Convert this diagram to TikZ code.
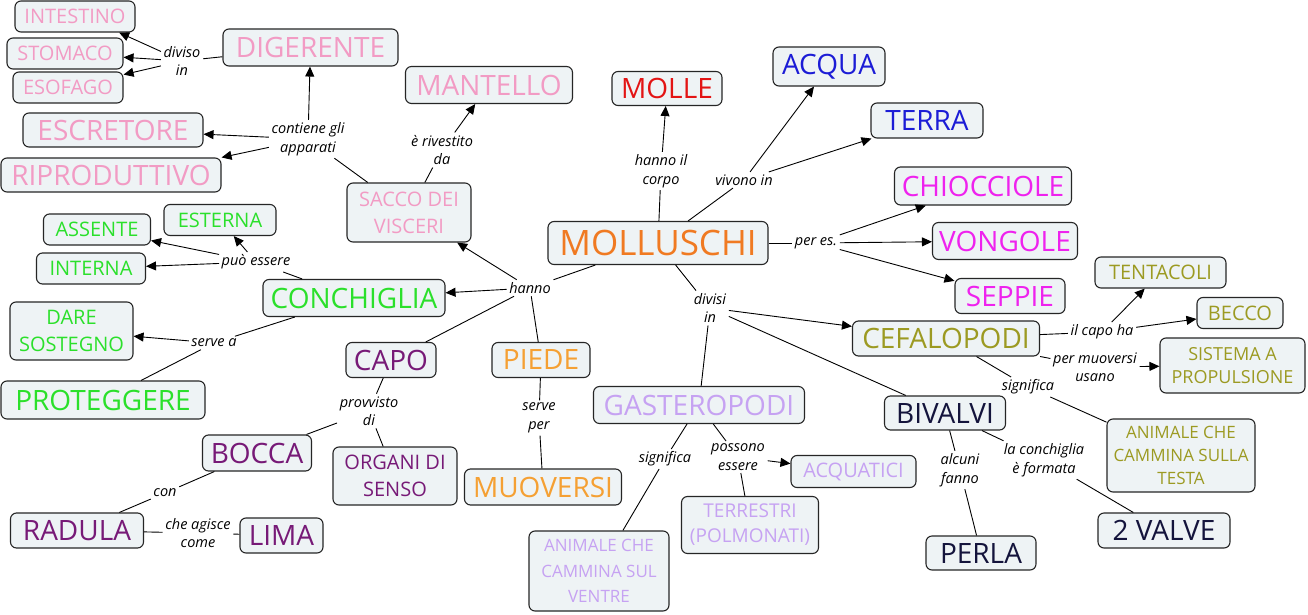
\documentclass[tikz,border=0pt]{standalone}
\usepackage{fontspec}
\setmainfont{Open Sans}
\usetikzlibrary{arrows.meta}
\definecolor{BoxFill}{HTML}{EEF3F5}
\definecolor{Pink}{HTML}{F29BC4}
\definecolor{Scarlet}{HTML}{E31414}
\definecolor{Royal}{HTML}{1C1CD6}
\definecolor{Pumpkin}{HTML}{F07A22}
\definecolor{Fuchsia}{HTML}{EE22EE}
\definecolor{Lime}{HTML}{2BE02B}
\definecolor{Plum}{HTML}{771A77}
\definecolor{Amber}{HTML}{F5A033}
\definecolor{Olive}{HTML}{9C9A22}
\definecolor{Lavender}{HTML}{C6A2F2}
\definecolor{Ink}{HTML}{14143C}

\begin{document}
\begin{tikzpicture}[x=1pt, y=-1pt,
  concept/.style={draw=black!85, line width=1.1pt, rounded corners=6pt, fill=BoxFill,
                  align=center, inner sep=2pt},
  cbig/.style={font=\fontsize{35}{40}\selectfont},
  cmid/.style={font=\fontsize{28}{32}\selectfont},
  csmall/.style={font=\fontsize{20}{27}\selectfont},
  ctiny/.style={font=\fontsize{17}{23}\selectfont},
  link/.style={align=center, inner sep=2.5pt, font=\fontsize{14.5}{18.5}\selectfont\itshape},
  con/.style={line width=0.9pt},
  arr/.style={con, -{Triangle[length=10pt,width=9pt]}}
]
  \fill[white] (0,0) rectangle (1308,615);
  \useasboundingbox (0,0) rectangle (1308,615);

  %% Concepts: apparati (pink)
  \node[concept, csmall, text=Pink, minimum width=120, minimum height=31] (intestino) at (75,16.5) {INTESTINO};
  \node[concept, csmall, text=Pink, minimum width=116, minimum height=31] (stomaco) at (65,53.5) {STOMACO};
  \node[concept, csmall, text=Pink, minimum width=110, minimum height=31] (esofago) at (68,87.5) {ESOFAGO};
  \node[concept, cmid, text=Pink, minimum width=175, minimum height=37] (digerente) at (310.5,47.5) {DIGERENTE};
  \node[concept, cmid, text=Pink, minimum width=180, minimum height=34] (escretore) at (113,130) {ESCRETORE};
  \node[concept, cmid, text=Pink, minimum width=220, minimum height=34] (riproduttivo) at (111,175) {RIPRODUTTIVO};
  \node[concept, cmid, text=Pink, minimum width=167, minimum height=37] (mantello) at (489,85) {MANTELLO};
  \node[concept, csmall, text=Pink, minimum width=124, minimum height=59] (sacco) at (409,212.5) {SACCO DEI\\VISCERI};

  %% Main concept and upper right
  \node[concept, cbig, text=Pumpkin, minimum width=220, minimum height=43] (molluschi) at (658,243) {MOLLUSCHI};
  \node[concept, cmid, text=Scarlet, minimum width=110, minimum height=34] (molle) at (667,88.5) {MOLLE};
  \node[concept, cmid, text=Royal, minimum width=112, minimum height=39] (acqua) at (829,66.5) {ACQUA};
  \node[concept, cmid, text=Royal, minimum width=112, minimum height=35] (terra) at (927,120.5) {TERRA};
  \node[concept, cmid, text=Fuchsia, minimum width=177, minimum height=38] (chiocciole) at (983,186) {CHIOCCIOLE};
  \node[concept, cmid, text=Fuchsia, minimum width=145, minimum height=37] (vongole) at (1005,241) {VONGOLE};
  \node[concept, cmid, text=Fuchsia, minimum width=110, minimum height=35] (seppie) at (1010,296) {SEPPIE};

  %% Conchiglia (green)
  \node[concept, csmall, text=Lime, minimum width=112, minimum height=31] (esterna) at (220,220) {ESTERNA};
  \node[concept, csmall, text=Lime, minimum width=107, minimum height=31] (assente) at (97,229.5) {ASSENTE};
  \node[concept, csmall, text=Lime, minimum width=109, minimum height=31] (interna) at (91,268.5) {INTERNA};
  \node[concept, cmid, text=Lime, minimum width=182, minimum height=37] (conchiglia) at (354,298) {CONCHIGLIA};
  \node[concept, csmall, text=Lime, minimum width=123, minimum height=58] (dare) at (71.5,331) {DARE\\SOSTEGNO};
  \node[concept, cmid, text=Lime, minimum width=204, minimum height=38] (proteggere) at (103,400) {PROTEGGERE};

  %% Capo e piede
  \node[concept, cmid, text=Plum, minimum width=90, minimum height=35] (capo) at (391,360) {CAPO};
  \node[concept, cmid, text=Amber, minimum width=98, minimum height=35] (piede) at (541,360) {PIEDE};
  \node[concept, cmid, text=Plum, minimum width=109, minimum height=36] (bocca) at (257,453) {BOCCA};
  \node[concept, csmall, text=Plum, minimum width=124, minimum height=58] (organi) at (395,476) {ORGANI DI\\SENSO};
  \node[concept, cmid, text=Amber, minimum width=157, minimum height=36] (muoversi) at (543,487) {MUOVERSI};
  \node[concept, cmid, text=Plum, minimum width=133, minimum height=35] (radula) at (77,530.5) {RADULA};
  \node[concept, cmid, text=Plum, minimum width=83, minimum height=35] (lima) at (281.5,535.5) {LIMA};

  %% Classi
  \node[concept, cmid, text=Olive, minimum width=187, minimum height=35] (cefalopodi) at (946,338.5) {CEFALOPODI};
  \node[concept, csmall, text=Olive, minimum width=131, minimum height=31] (tentacoli) at (1160.5,272.5) {TENTACOLI};
  \node[concept, csmall, text=Olive, minimum width=86, minimum height=31] (becco) at (1240,313) {BECCO};
  \node[concept, ctiny, font=\fontsize{18}{23}\selectfont, text=Olive, minimum width=145, minimum height=55] (sistema) at (1232.5,365.5) {SISTEMA A\\PROPULSIONE};
  \node[concept, ctiny, text=Olive, minimum width=148, minimum height=73] (testa) at (1181,455.5) {ANIMALE CHE\\CAMMINA SULLA\\TESTA};
  \node[concept, cmid, text=Lavender, minimum width=211, minimum height=37] (gasteropodi) at (699,405) {GASTEROPODI};
  \node[concept, csmall, text=Lavender, minimum width=125, minimum height=32] (acquatici) at (853.5,471.5) {ACQUATICI};
  \node[concept, ctiny, font=\fontsize{19}{25}\selectfont, text=Lavender, minimum width=137, minimum height=57] (terrestri) at (750,525) {TERRESTRI\\(POLMONATI)};
  \node[concept, ctiny, font=\fontsize{17}{25.5}\selectfont, text=Lavender, minimum width=140, minimum height=80] (ventre) at (599,571) {ANIMALE CHE\\CAMMINA SUL\\VENTRE};
  \node[concept, cmid, text=Ink, minimum width=121, minimum height=34] (bivalvi) at (945,413) {BIVALVI};
  \node[concept, cmid, text=Ink, minimum width=110, minimum height=34] (perla) at (981,553) {PERLA};
  \node[concept, cmid, text=Ink, minimum width=132, minimum height=35] (valve) at (1164,530.5) {2 VALVE};

  %% Linking phrases
  \node[link] (diviso) at (182,61) {diviso\\in};
  \node[link] (contiene) at (308,139) {contiene gli\\apparati};
  \node[link] (rivestito) at (442,150) {è rivestito\\da};
  \node[link] (hanno) at (530,288) {hanno};
  \node[link] (hannoil) at (661,171) {hanno il\\corpo};
  \node[link] (vivono) at (744,180) {vivono in};
  \node[link] (peres) at (816,243) {per es.};
  \node[link] (divisi) at (710,308) {divisi\\in};
  \node[link] (puo) at (256,262) {può essere};
  \node[link] (servea) at (214,343) {serve a};
  \node[link] (provvisto) at (369,411) {provvisto\\di};
  \node[link] (serveper) at (539,418) {serve\\per};
  \node[link] (con) at (165,493) {con};
  \node[link] (agisce) at (198,533) {che agisce\\come};
  \node[link] (ilcapo) at (1102,332) {il capo ha};
  \node[link] (muov) at (1095,367) {per muoversi\\usano};
  \node[link] (sigcef) at (1028,387) {significa};
  \node[link] (siggas) at (665,459) {significa};
  \node[link] (possono) at (738,457) {possono\\essere};
  \node[link] (alcuni) at (960,470) {alcuni\\fanno};
  \node[link] (formata) at (1044,460) {la conchiglia\\è formata};

  %% Connectors
  \draw[con] (digerente) -- (diviso);
  \draw[arr] (diviso) -- (intestino.-20);
  \draw[arr] (diviso) -- (stomaco);
  \draw[arr] (diviso) -- (esofago);
  \draw[con] (sacco) -- (contiene);
  \draw[arr] (contiene) -- (digerente);
  \draw[arr] (contiene) -- (escretore);
  \draw[arr] (contiene) -- (riproduttivo.north east);
  \draw[con] (sacco) -- (rivestito);
  \draw[arr] (rivestito) -- (mantello);

  \draw[con] (molluschi) -- (hanno);
  \draw[arr] (hanno) -- (sacco);
  \draw[arr] (hanno) -- (conchiglia);
  \draw[con] (hanno) -- (capo);
  \draw[con] (hanno) -- (piede);
  \draw[con] (molluschi) -- (hannoil);
  \draw[arr] (hannoil) -- (molle);
  \draw[con] (molluschi) -- (vivono);
  \draw[arr] (vivono) -- (acqua);
  \draw[arr] (vivono) -- (terra);
  \draw[con] (molluschi) -- (peres);
  \draw[arr] (peres) -- (chiocciole);
  \draw[arr] (peres) -- (vongole);
  \draw[arr] (peres) -- (seppie);
  \draw[con] (molluschi) -- (divisi);
  \draw[arr] (divisi) -- (cefalopodi);
  \draw[con] (divisi) -- (bivalvi);
  \draw[con] (divisi) -- (gasteropodi);

  \draw[con] (conchiglia) -- (puo);
  \draw[arr] (puo) -- (esterna);
  \draw[arr] (puo) -- (assente);
  \draw[arr] (puo) -- (interna);
  \draw[con] (conchiglia) -- (servea);
  \draw[arr] (servea) -- (dare);
  \draw[con] (servea) -- (proteggere);

  \draw[con] (capo) -- (provvisto);
  \draw[con] (provvisto) -- (bocca);
  \draw[con] (provvisto) -- (organi);
  \draw[con] (piede) -- (serveper);
  \draw[con] (serveper) -- (muoversi);
  \draw[con] (bocca) -- (con);
  \draw[con] (con) -- (radula);
  \draw[con] (radula) -- (agisce);
  \draw[con] (agisce) -- (lima);

  \draw[con] (cefalopodi) -- (ilcapo);
  \draw[arr] (ilcapo) -- (tentacoli);
  \draw[arr] (ilcapo) -- (becco);
  \draw[con] (cefalopodi) -- (muov);
  \draw[arr] (muov) -- (sistema);
  \draw[con] (cefalopodi) -- (sigcef);
  \draw[con] (sigcef) -- (testa);

  \draw[con] (gasteropodi) -- (siggas);
  \draw[con] (siggas) -- (ventre);
  \draw[con] (gasteropodi) -- (possono);
  \draw[arr] (possono) -- (acquatici);
  \draw[con] (possono) -- (terrestri);
  \draw[con] (bivalvi) -- (alcuni);
  \draw[con] (alcuni) -- (perla);
  \draw[con] (bivalvi) -- (formata);
  \draw[con] (formata) -- (valve);
\end{tikzpicture}
\end{document}
